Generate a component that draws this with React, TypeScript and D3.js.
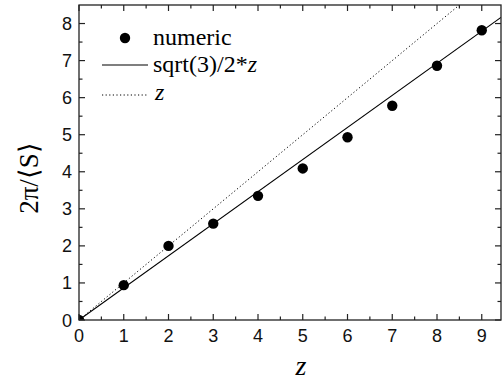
import React from 'react';
import * as d3 from 'd3';

// numeric data points
const zValues = [0, 1, 2, 3, 4, 5, 6, 7, 8, 9];
const numericValues = [0, 0.94, 2.0, 2.6, 3.35, 4.09, 4.93, 5.78, 6.86, 7.82];

const xTicks = [0, 1, 2, 3, 4, 5, 6, 7, 8, 9];
const yTicks = [0, 1, 2, 3, 4, 5, 6, 7, 8];
const xMinor = [0.5, 1.5, 2.5, 3.5, 4.5, 5.5, 6.5, 7.5, 8.5];
const yMinor = [0.5, 1.5, 2.5, 3.5, 4.5, 5.5, 6.5, 7.5];

const legendItems = ['numeric', 'sqrt(3)/2*', 'z'];

const W = 502, H = 381;
const margin = { top: 5, right: 1, bottom: 61, left: 79 };
const SERIF = 'Liberation Serif';
const SANS = 'Liberation Sans';

export default function App() {
  const xMax = 9.43;
  const x = d3.scaleLinear().domain([0, xMax]).range([margin.left, W - margin.right]);
  const y = d3.scaleLinear().domain([0, 8.5]).range([H - margin.bottom, margin.top]);

  const solid = d3.line<number>().x(d => x(d)).y(d => y((Math.sqrt(3) / 2) * d));
  const dotted = d3.line<number>().x(d => x(d)).y(d => y(d));

  const left = x(0), right = x(xMax), bottom = y(0), top = y(8.5);
  const major = 6, minor = 3.5;
  const axisColor = '#222';

  return (
    <svg width={W} height={H} style={{ display: 'block', position: 'absolute', left: 0, top: 0 }}>
      <rect width={W} height={H} fill="white" />
      <defs>
        <clipPath id="plot">
          <rect x={left} y={top} width={right - left} height={bottom - top} />
        </clipPath>
      </defs>

      {/* curves */}
      <g clipPath="url(#plot)">
        <path d={solid([0, xMax]) || ''} fill="none" stroke="#000" strokeWidth={1.1} />
        <path d={dotted([0, 8.5]) || ''} fill="none" stroke="#000" strokeWidth={1} strokeDasharray="1.2,2.4" />
        {zValues.map((z, i) => (
          <circle key={i} cx={x(z)} cy={y(numericValues[i])} r={5.2} fill="#000" />
        ))}
      </g>

      {/* frame */}
      <rect x={left} y={top} width={right - left} height={bottom - top} fill="none" stroke={axisColor} strokeWidth={1.3} />

      {/* x ticks bottom & top */}
      {xTicks.map(t => (
        <g key={'xt' + t}>
          <line x1={x(t)} x2={x(t)} y1={bottom} y2={bottom - major} stroke={axisColor} strokeWidth={1.2} />
          <line x1={x(t)} x2={x(t)} y1={top} y2={top + major} stroke={axisColor} strokeWidth={1.2} />
          <text x={x(t)} y={bottom + 22} textAnchor="middle" fontFamily={SANS} fontSize={18} fill="#111">{t}</text>
        </g>
      ))}
      {xMinor.map(t => (
        <g key={'xm' + t}>
          <line x1={x(t)} x2={x(t)} y1={bottom} y2={bottom - minor} stroke={axisColor} strokeWidth={1.2} />
          <line x1={x(t)} x2={x(t)} y1={top} y2={top + minor} stroke={axisColor} strokeWidth={1.2} />
        </g>
      ))}

      {/* y ticks left & right */}
      {yTicks.map(t => (
        <g key={'yt' + t}>
          <line x1={left} x2={left + major} y1={y(t)} y2={y(t)} stroke={axisColor} strokeWidth={1.2} />
          <line x1={right} x2={right - major} y1={y(t)} y2={y(t)} stroke={axisColor} strokeWidth={1.2} />
          <text x={left - 7} y={y(t) + 6.5} textAnchor="end" fontFamily={SANS} fontSize={18} fill="#111">{t}</text>
        </g>
      ))}
      {yMinor.map(t => (
        <g key={'ym' + t}>
          <line x1={left} x2={left + minor} y1={y(t)} y2={y(t)} stroke={axisColor} strokeWidth={1.2} />
          <line x1={right} x2={right - minor} y1={y(t)} y2={y(t)} stroke={axisColor} strokeWidth={1.2} />
        </g>
      ))}

      {/* legend */}
      <circle cx={125} cy={38} r={5.2} fill="#000" />
      <text x={153} y={45} fontFamily={SERIF} fontSize={24}>{legendItems[0]}</text>
      <line x1={102} x2={148} y1={65} y2={65} stroke="#000" strokeWidth={1.1} />
      <text x={153} y={72} fontFamily={SERIF} fontSize={24}>{legendItems[1]}<tspan fontStyle="italic">z</tspan></text>
      <line x1={102} x2={148} y1={95} y2={95} stroke="#000" strokeWidth={1} strokeDasharray="1.2,2.4" />
      <text x={155} y={100} fontFamily={SERIF} fontSize={24} fontStyle="italic">{legendItems[2]}</text>

      {/* axis titles */}
      <text x={301} y={375} textAnchor="middle" fontFamily={SERIF} fontStyle="italic" fontSize={28}>z</text>
      <text transform="translate(38,178) rotate(-90)" textAnchor="middle" fontFamily={SERIF} fontSize={27}>2π/⟨S⟩</text>
    </svg>
  );
}
